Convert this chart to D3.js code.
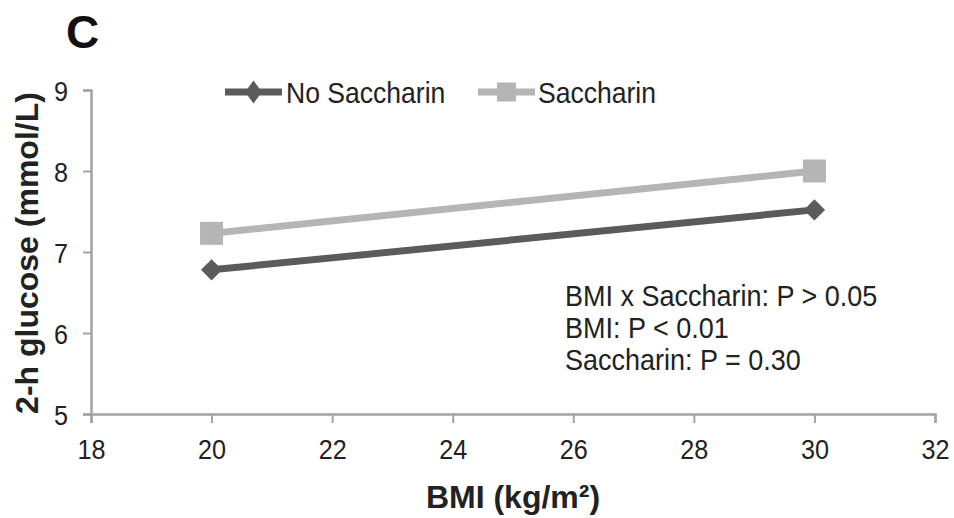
<!DOCTYPE html>
<html>
<head>
<meta charset="utf-8">
<script src="https://cdn.jsdelivr.net/npm/d3@7"></script>
<style>
  html, body { margin: 0; padding: 0; background: #fff; }
  svg { display: block; font-family: "Liberation Sans", Arial, sans-serif; }
</style>
</head>
<body>
<svg id="chart" width="954" height="518"></svg>
<script>
// BMI groups and mean 2-h glucose (mmol/L) per group
const bmiLevels = [20, 30];
const noSaccharin = [6.78, 7.52];
const saccharin = [7.23, 8.0];

const seriesNames = ["No Saccharin", "Saccharin"];
const xTickValues = [18, 20, 22, 24, 26, 28, 30, 32];
const yTickValues = [5, 6, 7, 8, 9];
const statLines = [
  "BMI x Saccharin: P > 0.05",
  "BMI: P < 0.01",
  "Saccharin: P = 0.30"
];

const svg = d3.select("#chart");
const axisColor = "#a3a3a3";
const textColor = "#222";
const darkGrey = "#5b5b5b";
const lightGrey = "#b5b5b5";
const squeeze = 0.9; // slightly condensed lettering for the regular-weight labels

const x = d3.scaleLinear().domain([18, 32]).range([91, 935]);
const y = d3.scaleLinear().domain([5, 9]).range([414, 90]);

// draws a condensed text at (tx, ty)
function condensedText(parent, tx, ty, str, size) {
  return parent.append("text")
    .attr("transform", `translate(${tx},${ty}) scale(${squeeze},1)`)
    .attr("font-size", size)
    .attr("fill", textColor)
    .text(str);
}

// panel letter
svg.append("text")
  .attr("x", 66).attr("y", 48)
  .attr("font-size", 46).attr("font-weight", "bold")
  .attr("fill", "#111")
  .text("C");

// axes
const xAxis = svg.append("g")
  .attr("transform", `translate(0,${y(5)})`)
  .call(d3.axisBottom(x).tickValues(xTickValues).tickSize(9).tickPadding(16).tickSizeOuter(9)
    .tickFormat(d3.format("d")));
const yAxis = svg.append("g")
  .attr("transform", `translate(${x(18)},0)`)
  .call(d3.axisLeft(y).tickValues(yTickValues).tickSize(8).tickPadding(15).tickSizeOuter(8)
    .tickFormat(d3.format("d")));

[xAxis, yAxis].forEach(g => {
  g.select(".domain").attr("stroke", axisColor).attr("stroke-width", 2.5);
  g.selectAll(".tick line").attr("stroke", axisColor).attr("stroke-width", 2);
  g.selectAll(".tick text")
    .attr("fill", textColor)
    .attr("font-size", 28)
    .attr("font-family", "'Liberation Sans', Arial, sans-serif");
});
xAxis.selectAll(".tick text").attr("transform", `scale(${squeeze},1)`);
yAxis.selectAll(".tick text")
  .attr("dy", "0.36em")
  .attr("x", -(8 + 15) / squeeze)
  .attr("transform", `scale(${squeeze},1)`);

// axis titles
svg.append("text")
  .attr("x", (x(18) + x(32)) / 2).attr("y", 508)
  .attr("text-anchor", "middle")
  .attr("font-size", 32).attr("font-weight", "bold")
  .attr("fill", textColor)
  .text("BMI (kg/m²)");

svg.append("text")
  .attr("transform", `translate(38,${(y(5) + y(9)) / 2 + 1}) rotate(-90)`)
  .attr("text-anchor", "middle")
  .attr("font-size", 32).attr("font-weight", "bold")
  .attr("fill", textColor)
  .text("2-h glucose (mmol/L)");

// series
const series = [
  { name: seriesNames[0], values: noSaccharin, color: darkGrey, marker: "diamond" },
  { name: seriesNames[1], values: saccharin, color: lightGrey, marker: "square" }
];

const line = d3.line().x(d => x(d[0])).y(d => y(d[1]));

series.forEach(s => {
  const pts = bmiLevels.map((b, i) => [b, s.values[i]]);
  svg.append("path")
    .datum(pts)
    .attr("d", line)
    .attr("fill", "none")
    .attr("stroke", s.color)
    .attr("stroke-width", 7);
});

const diamond = d3.symbol().type(d3.symbolSquare).size(15 * 15);
const square = d3.symbol().type(d3.symbolSquare).size(23 * 23);

series.forEach(s => {
  const isDiamond = s.marker === "diamond";
  svg.selectAll(null)
    .data(bmiLevels.map((b, i) => [b, s.values[i]]))
    .join("path")
    .attr("d", isDiamond ? diamond : square)
    .attr("transform", d => `translate(${x(d[0])},${y(d[1])})` + (isDiamond ? " rotate(45)" : ""))
    .attr("fill", s.color);
});

// legend
const legendItems = [
  { s: series[0], x0: 225, x1: 282, tx: 286 },
  { s: series[1], x0: 478, x1: 535, tx: 538 }
];
const ly = 92;
legendItems.forEach(it => {
  const g = svg.append("g");
  g.append("line")
    .attr("x1", it.x0).attr("x2", it.x1)
    .attr("y1", ly).attr("y2", ly)
    .attr("stroke", it.s.color).attr("stroke-width", 7);
  const cx = (it.x0 + it.x1) / 2;
  if (it.s.marker === "diamond") {
    g.append("path")
      .attr("d", d3.symbol().type(d3.symbolSquare).size(14 * 14)())
      .attr("transform", `translate(${cx},${ly}) scale(0.85,1.15) rotate(45)`)
      .attr("fill", it.s.color);
  } else {
    g.append("path")
      .attr("d", d3.symbol().type(d3.symbolSquare).size(19 * 19)())
      .attr("transform", `translate(${cx},${ly})`)
      .attr("fill", it.s.color);
  }
  condensedText(g, it.tx, 103, it.s.name, 29.5);
});

// statistics annotation
const stats = svg.append("g");
statLines.forEach((str, i) => condensedText(stats, 565, 306 + i * 32, str, 30));
</script>
</body>
</html>
